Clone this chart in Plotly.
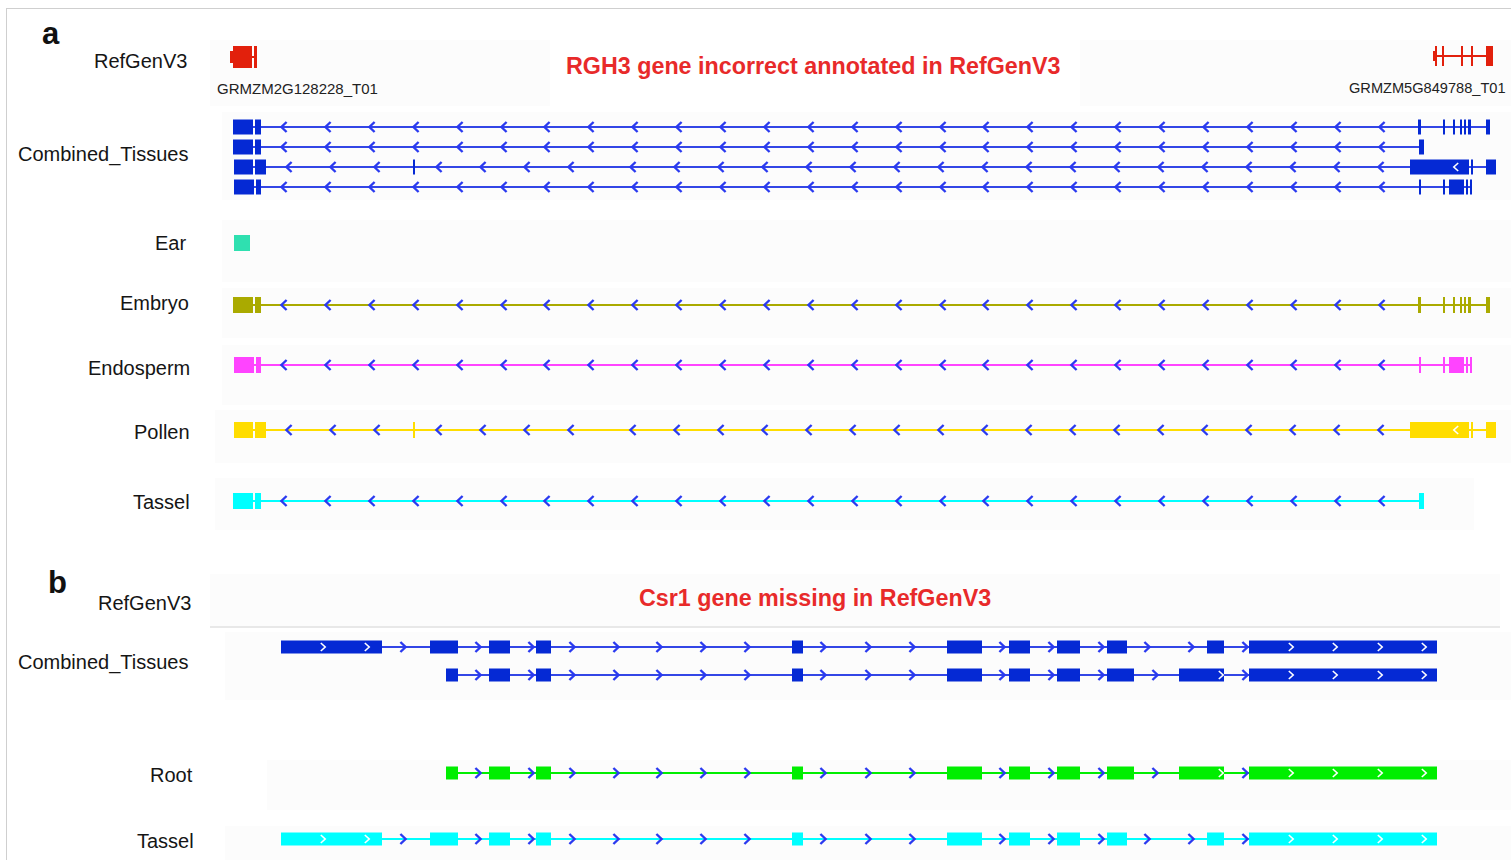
import plotly.graph_objects as go

W, H = 1511, 860

# ---------------- colours ----------------
RED = "#e2200c"
TITLE_RED = "#e82a2a"
BLUE = "#0529d4"
BLUE_LINE = "#3346e6"
CHEV = "#2a3af0"
EAR = "#2fe0b0"
EMBRYO = "#aaaa00"
ENDOSPERM = "#ff44ff"
POLLEN = "#ffdd00"
TASSEL = "#00ffff"
ROOT = "#00ee00"
BAND = "#fcfcfc"

# ---------------- panel a : RGH3 locus (display units along the locus) ----------------
ref_a_left = [(233, 252), (254, 257)]
ref_a_left_tip = (230, 233)
ref_a_right = [(1435, 1437), (1442, 1444), (1461, 1463), (1471, 1473), (1486, 1493)]
ref_a_right_tip = (1433, 1435)

tx_a1 = [(233, 253), (255, 261), (1418, 1421), (1443, 1445), (1453, 1455),
         (1460, 1462), (1464, 1466), (1468, 1471), (1486, 1490)]
tx_a2 = [(233, 253), (255, 261), (1419, 1424)]
tx_a3 = [(234, 253), (255, 266), (413, 415), (1410, 1469), (1471, 1473), (1486, 1496)]
tx_a4 = [(234, 254), (256, 261), (1419, 1421), (1443, 1445), (1449, 1464),
         (1466, 1468), (1470, 1472)]
tx_ear = [(234, 250)]

arrows_a = [284, 328, 372, 416, 460, 504, 547, 591, 635, 679, 723, 767, 811,
            855, 899, 943, 986, 1030, 1074, 1118, 1162, 1206, 1250, 1294, 1338, 1382]
arrows_a3 = [289, 333, 377, 439, 483, 527, 571, 633, 677, 721, 765, 809, 853,
             897, 941, 985, 1029, 1073, 1117, 1161, 1205, 1249, 1293, 1337, 1381]
inner_a3 = [1456]

# ---------------- panel b : Csr1 locus ----------------
tx_b1 = [(281, 382), (430, 458), (489, 510), (536, 551), (792, 803), (947, 982),
         (1009, 1030), (1057, 1080), (1107, 1127), (1207, 1224), (1249, 1437)]
tx_b2 = [(446, 458), (489, 510), (536, 551), (792, 803), (947, 982), (1009, 1030),
         (1057, 1080), (1107, 1134), (1179, 1224), (1249, 1437)]
arrows_b1 = [403, 478, 531, 572, 616, 659, 703, 747, 823, 868, 912, 1002,
             1051, 1101, 1147, 1191, 1245]
arrows_b2 = [478, 531, 572, 616, 659, 703, 747, 823, 868, 912, 1002, 1051,
             1101, 1155, 1245]
inner_b1 = [323, 367, 1291, 1335, 1380, 1424]
inner_b2 = [1221, 1291, 1335, 1380, 1424]

# track labels
labels_a = ["RefGenV3", "Combined_Tissues", "Ear", "Embryo", "Endosperm", "Pollen", "Tassel"]
labels_a_y = [61, 154, 243, 303, 368, 432, 502]
labels_a_x = [189, 190, 188, 191, 192, 192, 192]
labels_b = ["RefGenV3", "Combined_Tissues", "Root", "Tassel"]
labels_b_y = [603, 662, 775, 841]
labels_b_x = [193, 190, 195, 196]

shapes = []
traces = []


def band(x0, x1, y0, y1, color=BAND):
    shapes.append(dict(type="rect", xref="x", yref="y", x0=x0, x1=x1, y0=y0, y1=y1,
                       fillcolor=color, line=dict(width=0), layer="below"))


def exon(x0, x1, yc, half, color):
    shapes.append(dict(type="rect", xref="x", yref="y", x0=x0, x1=x1,
                       y0=yc - half, y1=yc + half, fillcolor=color,
                       line=dict(width=0), layer="below"))


def intron(x0, x1, yc, color, width=2):
    shapes.append(dict(type="line", xref="x", yref="y", x0=x0, x1=x1, y0=yc, y1=yc,
                       line=dict(color=color, width=width), layer="below"))


def chevrons(xs, yc, direction, color, dx=2.6, dy=5, width=2.4):
    px, py = [], []
    s = 1 if direction == "right" else -1
    for x in xs:
        px += [x - s * dx, x + s * dx, x - s * dx, None]
        py += [yc - dy, yc, yc + dy, None]
    traces.append(go.Scatter(x=px, y=py, mode="lines", hoverinfo="skip",
                             line=dict(color=color, width=width), showlegend=False))


def transcript(exons, yc, half, color, line_color, arrows, direction, inner=()):
    intron(exons[0][0], exons[-1][1], yc, line_color)
    for x0, x1 in exons:
        exon(x0, x1, yc, half, color)
    if arrows:
        chevrons(arrows, yc, direction, CHEV)
    if inner:
        chevrons(list(inner), yc, direction, "white", dx=2.2, dy=4, width=1.6)


# ---------------- background bands ----------------
band(210, 550, 40, 106)
band(1080, W, 40, 106)
band(222, W, 112, 200)
band(222, W, 220, 282)
band(222, W, 288, 338)
band(222, W, 345, 405)
band(215, W, 410, 463)
band(215, 1474, 478, 530)
band(210, 1500, 574, 626)
band(225, W, 632, 700)
band(267, W, 760, 810)
band(225, W, 826, 860)
shapes.append(dict(type="line", xref="x", yref="y", x0=210, x1=1500, y0=627, y1=627,
                   line=dict(color="#e8e8e8", width=2), layer="below"))

# ---------------- panel a tracks ----------------
# RefGenV3 gene models
intron(ref_a_left[0][0], ref_a_left[-1][1], 57, RED)
exon(ref_a_left_tip[0], ref_a_left_tip[1], 57, 6, RED)
for x0, x1 in ref_a_left:
    exon(x0, x1, 57, 11, RED)
intron(ref_a_right[0][0], ref_a_right[-1][1], 56, RED)
exon(ref_a_right_tip[0], ref_a_right_tip[1], 56, 5, RED)
for x0, x1 in ref_a_right:
    exon(x0, x1, 56, 10, RED)

# Combined tissues
transcript(tx_a1, 127, 7.5, BLUE, BLUE_LINE, arrows_a, "left")
transcript(tx_a2, 147, 7.5, BLUE, BLUE_LINE, arrows_a, "left")
transcript(tx_a3, 167, 7.5, BLUE, BLUE_LINE, arrows_a3, "left", inner_a3)
transcript(tx_a4, 187, 7.5, BLUE, BLUE_LINE, arrows_a, "left")

# individual tissues
transcript(tx_ear, 243, 8, EAR, EAR, [], "left")
transcript(tx_a1, 305, 8, EMBRYO, EMBRYO, arrows_a, "left")
transcript(tx_a4, 365, 8, ENDOSPERM, ENDOSPERM, arrows_a, "left")
transcript(tx_a3, 430, 8, POLLEN, POLLEN, arrows_a3, "left", inner_a3)
transcript(tx_a2, 501, 8, TASSEL, TASSEL, arrows_a, "left")

# ---------------- panel b tracks ----------------
transcript(tx_b1, 647, 6.5, BLUE, BLUE_LINE, arrows_b1, "right", inner_b1)
transcript(tx_b2, 675, 6.5, BLUE, BLUE_LINE, arrows_b2, "right", inner_b2)
transcript(tx_b2, 773, 6.5, ROOT, ROOT, arrows_b2, "right", inner_b2)
transcript(tx_b1, 839, 6.5, TASSEL, TASSEL, arrows_b1, "right", inner_b1)

# page frame
shapes.append(dict(type="line", xref="x", yref="y", x0=6.5, x1=6.5, y0=8, y1=H,
                   line=dict(color="#cfcfcf", width=1), layer="below"))
shapes.append(dict(type="line", xref="x", yref="y", x0=6, x1=W, y0=8.5, y1=8.5,
                   line=dict(color="#cfcfcf", width=1), layer="below"))

# ---------------- text ----------------
annotations = []
FONT = "Liberation Sans, Arial, sans-serif"
for t, x, y in zip(labels_a, labels_a_x, labels_a_y):
    annotations.append(dict(text=t, x=x, y=y, xref="x", yref="y", xanchor="right",
                            yanchor="middle", showarrow=False,
                            font=dict(family=FONT, size=20, color="#151515")))
for t, x, y in zip(labels_b, labels_b_x, labels_b_y):
    annotations.append(dict(text=t, x=x, y=y, xref="x", yref="y", xanchor="right",
                            yanchor="middle", showarrow=False,
                            font=dict(family=FONT, size=20, color="#151515")))

annotations += [
    dict(text="<b>a</b>", x=51, y=33, xref="x", yref="y", showarrow=False,
         font=dict(family=FONT, size=31, color="#111")),
    dict(text="<b>b</b>", x=57, y=582, xref="x", yref="y", showarrow=False,
         font=dict(family=FONT, size=31, color="#111")),
    dict(text="GRMZM2G128228_T01", x=215, y=88, xref="x", yref="y", xanchor="left",
         showarrow=False, font=dict(family=FONT, size=15, color="#222")),
    dict(text="GRMZM5G849788_T01", x=1508, y=88, xref="x", yref="y", xanchor="right",
         showarrow=False, font=dict(family=FONT, size=14.6, color="#222")),
    dict(text="<b>RGH3 gene incorrect annotated in RefGenV3</b>", x=813, y=66,
         xref="x", yref="y", showarrow=False,
         font=dict(family=FONT, size=23.3, color=TITLE_RED)),
    dict(text="<b>Csr1 gene missing in RefGenV3</b>", x=815, y=598,
         xref="x", yref="y", showarrow=False,
         font=dict(family=FONT, size=23.3, color=TITLE_RED)),
]

fig = go.Figure(traces)
fig.update_layout(
    width=W, height=H,
    margin=dict(l=0, r=0, t=0, b=0),
    paper_bgcolor="white", plot_bgcolor="white",
    xaxis=dict(range=[0, W], visible=False, fixedrange=True),
    yaxis=dict(range=[H, 0], visible=False, fixedrange=True),
    shapes=shapes, annotations=annotations, showlegend=False,
)
fig.write_html("out.html", config={"displayModeBar": False})
